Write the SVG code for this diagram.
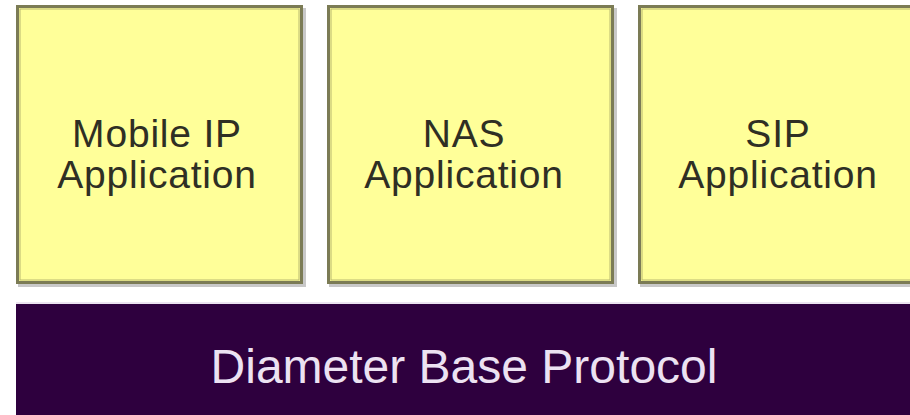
<svg xmlns="http://www.w3.org/2000/svg" width="910" height="415" viewBox="0 0 910 415">
<style>
.shadow{fill:#c8c8c8}
.box{fill:#ffff99;stroke:#7b7b55;stroke-width:3}
.inner{fill:none;stroke:#b8b870;stroke-width:1}
.lbl{font-family:"Liberation Sans",Arial,sans-serif;font-size:39px;letter-spacing:0.8px;fill:#2f2f24;text-anchor:middle}
.base{font-family:"Liberation Sans",Arial,sans-serif;font-size:48px;fill:#ece2f2;text-anchor:middle}
</style>
<rect x="0" y="0" width="910" height="415" fill="#ffffff"/>
<g id="mobile-ip">
<rect class="shadow" x="18" y="8" width="288" height="279"/>
<rect class="box" x="17.5" y="6.5" width="284" height="276"/>
<rect class="inner" x="20" y="9" width="279" height="271"/>
<text class="lbl" x="157" y="147">Mobile IP</text>
<text class="lbl" x="157" y="188">Application</text>
</g>
<g id="nas">
<rect class="shadow" x="329" y="8" width="288" height="279"/>
<rect class="box" x="328.5" y="6.5" width="284" height="276"/>
<rect class="inner" x="331" y="9" width="279" height="271"/>
<text class="lbl" x="464" y="147">NAS</text>
<text class="lbl" x="464" y="188">Application</text>
</g>
<g id="sip">
<rect class="shadow" x="640" y="8" width="288" height="279"/>
<rect class="box" x="639.5" y="6.5" width="284" height="276"/>
<rect class="inner" x="642" y="9" width="279" height="271"/>
<text class="lbl" x="778" y="147">SIP</text>
<text class="lbl" x="778" y="188">Application</text>
</g>
<g id="diameter-base">
<rect x="16" y="302" width="894" height="2" fill="#ece4f0"/>
<rect x="16" y="304" width="894" height="111" fill="#2e003e"/>
<text class="base" x="464" y="383">Diameter Base Protocol</text>
</g>
<g id="connectors"></g>
</svg>
